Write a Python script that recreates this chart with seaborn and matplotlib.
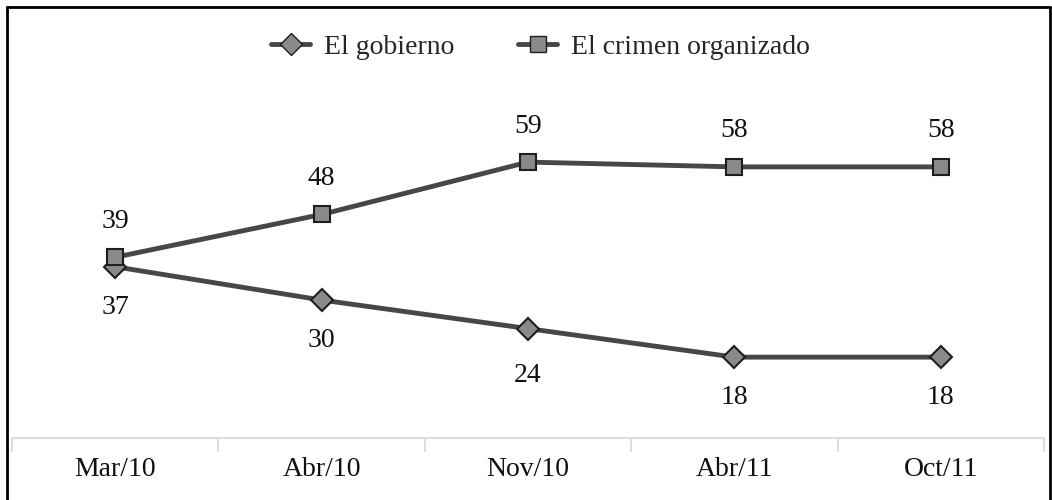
import matplotlib
matplotlib.use("Agg")
from matplotlib import pyplot as plt
from matplotlib.lines import Line2D
import seaborn as sns
import pandas as pd

# datos
fechas = ["Mar/10", "Abr/10", "Nov/10", "Abr/11", "Oct/11"]
gobierno = [37, 30, 24, 18, 18]
crimen = [39, 48, 59, 58, 58]
series = ["El gobierno", "El crimen organizado"]

sns.set_style("white")
plt.rcParams["font.family"] = ["Liberation Serif", "DejaVu Serif"]

df = pd.DataFrame({
    "pos": list(range(len(fechas))) * 2,
    "valor": gobierno + crimen,
    "serie": [series[0]] * len(fechas) + [series[1]] * len(fechas),
})

fig = plt.figure(figsize=(10.52, 5), dpi=100)
ax = fig.add_axes([12 / 1052, 62 / 500, 1032 / 1052, 430 / 500])

linea = "#474747"
sns.lineplot(data=df, x="pos", y="valor", hue="serie", style="serie",
             palette={series[0]: linea, series[1]: linea},
             markers={series[0]: "D", series[1]: "s"}, dashes=False,
             linewidth=3.5, markersize=11, markerfacecolor="#8a8a8a",
             markeredgecolor="#1e1e1e", markeredgewidth=1.5,
             legend=False, ax=ax)

# etiquetas de valores
for i, v in enumerate(crimen):
    ax.annotate(str(v), (i, v), xytext=(0, 26), textcoords="offset points",
                ha="center", va="center", fontsize=20, color="#111111")
for i, v in enumerate(gobierno):
    off = -34 if i == 2 else -29
    ax.annotate(str(v), (i, v), xytext=(0, off), textcoords="offset points",
                ha="center", va="center", fontsize=20, color="#111111")

ax.set_xlim(-0.5, len(fechas) - 0.5)
ax.set_ylim(1, 91.4)
ax.set_xlabel("")
ax.set_ylabel("")
ax.set_yticks([])
ax.set_xticks(range(len(fechas)))
ax.set_xticklabels(fechas, fontsize=20, color="#111111")
ax.set_xticks([i - 0.5 for i in range(len(fechas) + 1)], minor=True)
ax.tick_params(axis="x", which="major", length=0, pad=14)
ax.tick_params(axis="x", which="minor", bottom=True, length=10, width=1.5,
               color="#dddddd", direction="out")
for s in ["top", "left", "right"]:
    ax.spines[s].set_visible(False)
ax.spines["bottom"].set_color("#dddddd")
ax.spines["bottom"].set_linewidth(1.5)

handles = [
    Line2D([], [], color=linea, lw=3.5, marker="D", markersize=11,
           markerfacecolor="#8a8a8a", markeredgecolor="#1e1e1e"),
    Line2D([], [], color=linea, lw=3.5, marker="s", markersize=11,
           markerfacecolor="#8a8a8a", markeredgecolor="#1e1e1e"),
]
fig.legend(handles, series, loc="center", bbox_to_anchor=(0.514, 0.906),
           ncol=2, frameon=False, fontsize=20, handlelength=1.4,
           handletextpad=0.5, columnspacing=2.3)

# marco
for xs, ys in [([7 / 1052, 7 / 1052], [0, 1 - 7 / 500]),
               ([7 / 1052, 1050 / 1052], [1 - 7 / 500, 1 - 7 / 500]),
               ([1050 / 1052, 1050 / 1052], [0, 1 - 7 / 500])]:
    fig.add_artist(Line2D(xs, ys, color="black", lw=2))

fig.savefig("out.png", dpi=100, facecolor="white")
